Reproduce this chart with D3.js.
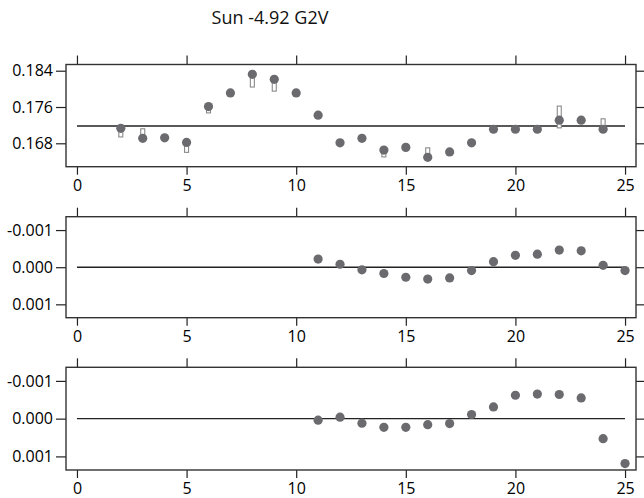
<!DOCTYPE html>
<html>
<head>
<meta charset="utf-8">
<script src="https://cdn.jsdelivr.net/npm/d3@7"></script>
<style>
  body { margin: 0; background: #fff; }
  svg { display: block; }
  .tick line { stroke: #222; stroke-width: 1.2; }
  .frame { fill: none; stroke: #333; stroke-width: 1.4; }
  .ref { stroke: #222; stroke-width: 1.4; }
  .dot { fill: #6b6b6f; }
  .bar { fill: #fff; stroke: #8a8a8a; stroke-width: 1.1; }
</style>
</head>
<body>
<div id="target"></div>
<script>
// panel 1: measured values
const x1 = [2, 3, 4, 5, 6, 7, 8, 9, 10, 11, 12, 13, 14, 15, 16, 17, 18, 19, 20, 21, 22, 23, 24];
const v1 = [0.1713, 0.1691, 0.1692, 0.1682, 0.1761, 0.1791, 0.1832, 0.1821, 0.1791, 0.1742, 0.1681, 0.1691,
  0.1665, 0.1671, 0.1649, 0.1661, 0.1681, 0.1711, 0.1711, 0.1711, 0.1731, 0.1731, 0.1711];
const mean1 = 0.1718;
// panel 1: open range markers
const barX = [2, 3, 5, 6, 8, 9, 14, 16, 22, 24];
const barLo = [0.1694, 0.1692, 0.1660, 0.1747, 0.1804, 0.1795, 0.1650, 0.1650, 0.1714, 0.1709];
const barHi = [0.1714, 0.1712, 0.1683, 0.1760, 0.1833, 0.1822, 0.1667, 0.1670, 0.1762, 0.1734];

// panels 2 and 3: residuals
const x2 = [11, 12, 13, 14, 15, 16, 17, 18, 19, 20, 21, 22, 23, 24, 25];
const v2 = [-0.00022, -0.00008, 0.00007, 0.00017, 0.00027, 0.00032, 0.00029, 0.00009, -0.00015, -0.00032,
  -0.00035, -0.00046, -0.00044, -0.00005, 0.00009];
const v3 = [0.00004, -0.00004, 0.00012, 0.00023, 0.00023, 0.00016, 0.00013, -0.00011, -0.00031, -0.00062,
  -0.00065, -0.00064, -0.00055, 0.00053, 0.00119];

const xTicks = [0, 5, 10, 15, 20, 25];
const yTicks1 = [0.184, 0.176, 0.168];
const yTicks2 = [-0.001, 0, 0.001];
const title = 'Sun -4.92 G2V';

const width = 644;
const height = 498;
const left = 66;
const right = 636;
const font = '"Open Sans", sans-serif';

const svg = d3.select('#target')
  .append('svg')
  .attr('width', width)
  .attr('height', height);

svg.append('text')
  .attr('x', 270)
  .attr('y', 24)
  .attr('text-anchor', 'middle')
  .attr('font-family', font)
  .attr('font-size', 18)
  .attr('fill', '#111')
  .text(title);

const x = d3.scaleLinear()
  .domain([-0.5, 25.5])
  .range([left, right]);

const panels = [
  {top: 64.5, bottom: 166.7, domain: [0.18537, 0.16284], ticks: yTicks1, xs: x1, ys: v1, ref: mean1, bars: true},
  {top: 216.7, bottom: 317.7, domain: [-0.00136, 0.00136], ticks: yTicks2, xs: x2, ys: v2, ref: 0},
  {top: 367.3, bottom: 470, domain: [-0.00136, 0.00136], ticks: yTicks2, xs: x2, ys: v3, ref: 0}
];

panels.forEach((p) => {
  const y = d3.scaleLinear()
    .domain(p.domain)
    .range([p.top, p.bottom]);
  const g = svg.append('g');
  const fmt = (d) => d.toFixed(3);

  g.append('g')
    .attr('transform', `translate(${left},0)`)
    .call(d3.axisLeft(y).tickValues(p.ticks).tickFormat(fmt).tickSize(10).tickPadding(3));
  g.append('g')
    .attr('transform', `translate(${right},0)`)
    .call(d3.axisRight(y).tickValues(p.ticks).tickFormat('').tickSize(9));
  g.append('g')
    .attr('transform', `translate(0,${p.top})`)
    .call(d3.axisTop(x).tickValues(xTicks).tickFormat('').tickSize(9));
  g.append('g')
    .attr('transform', `translate(0,${p.bottom})`)
    .call(d3.axisBottom(x).tickValues(xTicks).tickSize(8).tickPadding(5));
  g.selectAll('.domain').remove();
  g.selectAll('.tick text')
    .attr('font-family', font)
    .attr('font-size', 16)
    .attr('fill', '#000');

  g.append('rect')
    .attr('class', 'frame')
    .attr('x', left)
    .attr('y', p.top)
    .attr('width', right - left)
    .attr('height', p.bottom - p.top);

  g.append('line')
    .attr('class', 'ref')
    .attr('x1', x(0))
    .attr('x2', x(25))
    .attr('y1', y(p.ref))
    .attr('y2', y(p.ref));

  if (p.bars) {
    g.selectAll('.bar')
      .data(barX)
      .enter()
      .append('rect')
      .attr('class', 'bar')
      .attr('x', (d) => x(d) - 2)
      .attr('width', 4)
      .attr('y', (d, i) => y(barHi[i]))
      .attr('height', (d, i) => y(barLo[i]) - y(barHi[i]));
  }

  g.selectAll('.dot')
    .data(p.xs)
    .enter()
    .append('circle')
    .attr('class', 'dot')
    .attr('cx', (d) => x(d))
    .attr('cy', (d, i) => y(p.ys[i]))
    .attr('r', 4.6);
});
</script>
</body>
</html>
